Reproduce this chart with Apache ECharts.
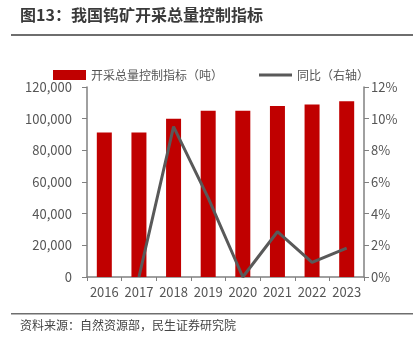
<!DOCTYPE html>
<html><head><meta charset="utf-8">
<script src="https://cdn.jsdelivr.net/npm/echarts@6/dist/echarts.min.js"></script>
<style>html,body{margin:0;padding:0;background:#fff}#c{width:413px;height:346px}</style>
</head><body><div id="c"></div>
<script>
const years = ['2016','2017','2018','2019','2020','2021','2022','2023'];
const quota = [91300, 91300, 100000, 105000, 105000, 108000, 109000, 111000];
const yoy = [null, 0, 9.5, 5.0, 0, 2.86, 0.93, 1.83];
const leftTicks = [0, 20000, 40000, 60000, 80000, 100000, 120000];
const rightTicks = [0, 2, 4, 6, 8, 10, 12];

const font = '"Noto Sans CJK SC", "Noto Sans", sans-serif';
const chart = echarts.init(document.getElementById('c'));
chart.setOption({
  animation: false,
  textStyle: {fontFamily: font},
  graphic: [
    {type:'text', left: 20, top: 7, style:{text:'图13：我国钨矿开采总量控制指标', font:'bold 16px ' + font, fill:'#3a3a3a'}},
    {type:'rect', shape:{x:11, y:34, width:402, height:2}, style:{fill:'#6e6e6e'}},
    {type:'rect', shape:{x:11, y:313, width:402, height:1.5}, style:{fill:'#6e6e6e'}},
    {type:'text', left: 20, top: 319, style:{text:'资料来源：自然资源部，民生证券研究院', font:'12px ' + font, fill:'#444'}}
  ],
  legend: {
    left: 53, top: 69, padding: 0, itemWidth: 33, itemHeight: 10, itemGap: 36,
    textStyle: {fontSize: 12, color: '#555', fontFamily: font},
    data: [
      {name:'开采总量控制指标（吨）', icon:'rect'},
      {name:'同比（右轴）', icon:'path://M0,0 L33,0 L33,3 L0,3 Z', itemStyle:{color:'#595959'}}
    ]
  },
  grid: {left: 87, right: 49, top: 87, bottom: 69},
  xAxis: {
    type: 'category', data: years,
    axisLine: {lineStyle: {color: '#808080', width: 1.5}},
    axisTick: {show: true, lineStyle: {color: '#808080'}, length: 4},
    axisLabel: {color: '#555', fontSize: 13, margin: 9, interval: 0}
  },
  yAxis: [
    {type:'value', min: leftTicks[0], max: leftTicks[leftTicks.length-1], interval: 20000,
     axisLine:{show:true, lineStyle:{color:'#808080', width:1.5}},
     axisTick:{show:true, lineStyle:{color:'#808080'}, length:5},
     splitLine:{show:false},
     axisLabel:{color:'#555', fontSize:13, margin:15, formatter: v => v.toLocaleString('en-US')}},
    {type:'value', min: rightTicks[0], max: rightTicks[rightTicks.length-1], interval: 2,
     axisLine:{show:true, lineStyle:{color:'#808080', width:1.5}},
     axisTick:{show:true, lineStyle:{color:'#808080'}, length:5},
     splitLine:{show:false},
     axisLabel:{color:'#555', fontSize:13, margin:7, formatter: v => v + '%'}}
  ],
  series: [
    {name:'开采总量控制指标（吨）', type:'bar', data: quota, barWidth: 15, itemStyle:{color:'#C00000'}},
    {name:'同比（右轴）', type:'line', yAxisIndex:1, data: yoy, symbol:'none', showSymbol:false,
     lineStyle:{color:'#595959', width:3}, itemStyle:{color:'#595959'}}
  ]
});
</script></body></html>
